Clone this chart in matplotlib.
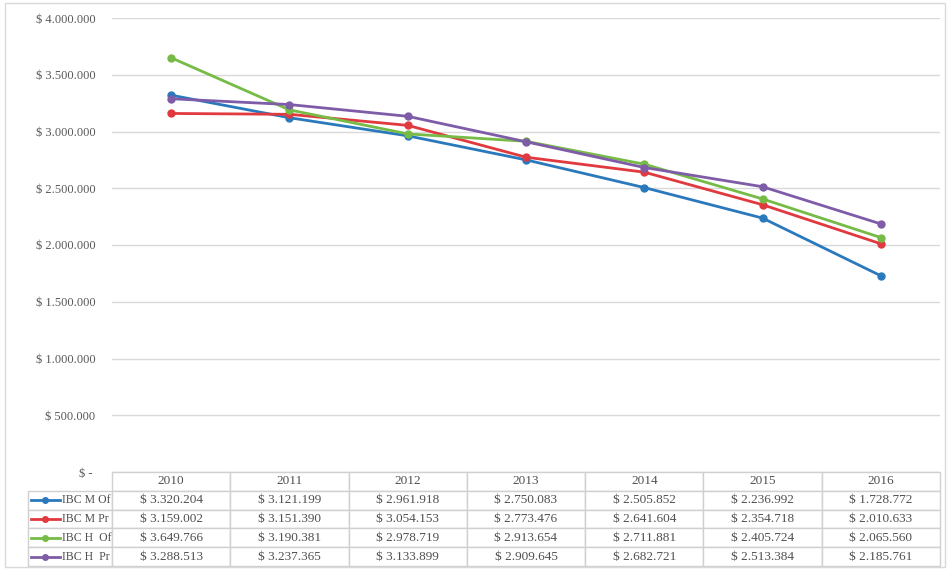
import numpy as np
import matplotlib.pyplot as plt
from matplotlib.lines import Line2D
from matplotlib.patches import Rectangle

years = ['2010', '2011', '2012', '2013', '2014', '2015', '2016']
labels = ['IBC M Of', 'IBC M Pr', 'IBC H  Of', 'IBC H  Pr']
m_of = [3320204, 3121199, 2961918, 2750083, 2505852, 2236992, 1728772]
m_pr = [3159002, 3151390, 3054153, 2773476, 2641604, 2354718, 2010633]
h_of = [3649766, 3190381, 2978719, 2913654, 2711881, 2405724, 2065560]
h_pr = [3288513, 3237365, 3133899, 2909645, 2682721, 2513384, 2185761]
series = [m_of, m_pr, h_of, h_pr]
colors = ['#2A79BC', '#E0393F', '#76BB46', '#7E5CA7']

def money(v):
    if v == 0:
        return '$ - '
    return '$ ' + f'{int(v):,}'.replace(',', '.')

plt.rcParams['font.family'] = ['Liberation Serif', 'DejaVu Serif']

W, H = 948, 570
fig = plt.figure(figsize=(W / 100, H / 100), dpi=100)
fig.patches.append(Rectangle((5 / W, 1 - 567 / H), 940 / W, 564 / H, transform=fig.transFigure,
                             fill=False, edgecolor='#D9D9D9', lw=1))

# plot area in pixels
x0, x1, ytop, ybot = 112, 940, 18, 472
ax = fig.add_axes([x0 / W, 1 - ybot / H, (x1 - x0) / W, (ybot - ytop) / H])
x = np.arange(len(years))
for s, c in zip(series, colors):
    ax.plot(x, s, color=c, lw=2, marker='o', ms=5)
ax.set_xlim(-0.5, len(years) - 0.5)
ax.set_ylim(0, 4000000)
yt = np.arange(0, 4000001, 500000)
ax.set_yticks(yt)
ax.set_yticklabels([money(v) for v in yt], color='#595959', fontsize=9)
ax.tick_params(axis='y', length=0, pad=12)
ax.set_xticks([])
ax.grid(axis='y', color='#D9D9D9', lw=1)
for sp in ax.spines.values():
    sp.set_visible(False)

# data table under the plot
cell_text = [[''] + [money(v) for v in s] for s in series]
col_w = [84] + [(x1 - x0) / len(years)] * len(years)
tbl_top, tbl_bot = 472, 566
tbl = ax.table(cellText=cell_text, colLabels=[''] + years, colWidths=col_w,
               cellLoc='center',
               bbox=[(28 - x0) / (x1 - x0), -(tbl_bot - ybot) / (ybot - ytop),
                     (x1 - 28) / (x1 - x0), (tbl_bot - tbl_top) / (ybot - ytop)])
tbl.auto_set_font_size(False)
for (r, c), cell in tbl.get_celld().items():
    cell.set_edgecolor('#D0D0D0')
    cell.set_linewidth(1)
    cell.get_text().set_fontsize(9.5)
    cell.get_text().set_color('#505050')
    if r == 0 and c == 0:
        cell.visible_edges = ''

# legend keys inside the first column
row_h = (tbl_bot - tbl_top) / 5
for i, (lab, c) in enumerate(zip(labels, colors)):
    yc = tbl_top + row_h * (i + 1.5)
    fig.add_artist(Line2D([31 / W, 60 / W], [1 - yc / H] * 2, color=c, lw=2,
                          transform=fig.transFigure))
    fig.add_artist(Line2D([45 / W], [1 - yc / H], color=c, marker='o', ms=4,
                          transform=fig.transFigure))
    fig.text(62 / W, 1 - yc / H, lab, fontsize=8.5, color='#505050', va='center', ha='left')

fig.savefig('out.png', dpi=100)
